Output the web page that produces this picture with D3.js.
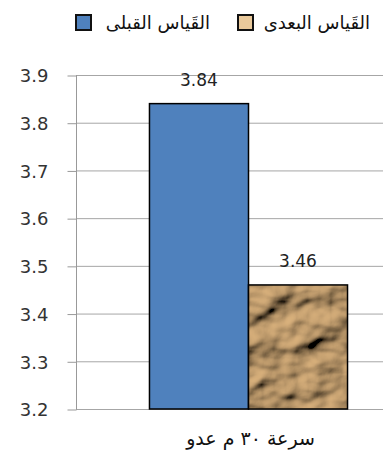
<!DOCTYPE html>
<html>
<head>
<meta charset="utf-8">
<script src="https://cdn.jsdelivr.net/npm/d3@7/dist/d3.min.js"></script>
<style>
  html, body { margin: 0; padding: 0; background: #fff; }
  svg { display: block; }
  text { font-family: "DejaVu Sans", sans-serif; }
</style>
</head>
<body>
<div id="chart"></div>
<script>
// Categories, series and values
const categories = ["سرعة ٣٠ م عدو"];
const seriesNames = ["القَياس القبلى", "القَياس البعدى"];
const preValues = [3.84];
const postValues = [3.46];
const yTicks = [3.2, 3.3, 3.4, 3.5, 3.6, 3.7, 3.8, 3.9];

const width = 383, height = 462;
const plot = { left: 76, right: 421, top: 75, bottom: 409 };

const svg = d3.select("#chart").append("svg")
  .attr("width", width).attr("height", height);

// Crumpled-paper texture used for the second series
const defs = svg.append("defs");
const filt = defs.append("filter").attr("id", "paper")
  .attr("x", "0%").attr("y", "0%").attr("width", "100%").attr("height", "100%");
filt.append("feTurbulence").attr("type", "fractalNoise")
  .attr("baseFrequency", "0.022 0.03").attr("numOctaves", 3).attr("seed", 11).attr("result", "noise");
filt.append("feDiffuseLighting").attr("in", "noise").attr("lighting-color", "#dcb37e")
  .attr("surfaceScale", 11).attr("diffuseConstant", 1.0).attr("result", "lit")
  .append("feDistantLight").attr("azimuth", 225).attr("elevation", 40);
filt.append("feComposite").attr("in", "lit").attr("in2", "SourceGraphic").attr("operator", "in");

const y = d3.scaleLinear().domain([3.2, 3.9]).range([plot.bottom, plot.top]);
const x0 = d3.scaleBand().domain(categories).range([plot.left, plot.right])
  .paddingInner(0).paddingOuter(0.371);
const x1 = d3.scaleBand().domain(seriesNames).range([0, x0.bandwidth()]).padding(0);

const colors = { [seriesNames[0]]: "#4f81bd", [seriesNames[1]]: "#e9c99b" };

// Gridlines
svg.append("g").selectAll("line").data(yTicks).join("line")
  .attr("x1", plot.left).attr("x2", plot.right)
  .attr("y1", d => y(d) + 0.5).attr("y2", d => y(d) + 0.5)
  .attr("stroke", "#a6a6a6").attr("stroke-width", 1);

// Y axis
const yAxis = svg.append("g").attr("transform", `translate(${plot.left + 0.5},0)`)
  .call(d3.axisLeft(y).tickValues(yTicks).tickFormat(d3.format(".1f")).tickSize(9).tickPadding(19));
yAxis.select(".domain").attr("stroke", "#999").attr("d", `M0,${plot.top}V${plot.bottom + 0.5}`);
yAxis.selectAll(".tick line").attr("stroke", "#999").attr("transform", "translate(0,0.5)");
yAxis.selectAll(".tick text").attr("font-size", 18).attr("fill", "#333")
  .attr("font-family", "DejaVu Sans, sans-serif").attr("dy", "0.38em");

// Bars
const rows = categories.map((c, i) => ({
  cat: c,
  vals: [{ s: seriesNames[0], v: preValues[i] }, { s: seriesNames[1], v: postValues[i] }]
}));
const groups = svg.append("g").selectAll("g").data(rows).join("g")
  .attr("transform", d => `translate(${x0(d.cat)},0)`);

groups.each(function(d) {
  const g = d3.select(this);
  d.vals.forEach(p => {
    const bx = x1(p.s), bw = x1.bandwidth(), by = y(p.v), bh = y(3.2) - y(p.v);
    if (p.s === seriesNames[1]) {
      g.append("rect").attr("x", bx).attr("y", by).attr("width", bw).attr("height", bh)
        .attr("fill", "#000").attr("filter", "url(#paper)");
      g.append("rect").attr("x", bx).attr("y", by).attr("width", bw).attr("height", bh)
        .attr("fill", "none").attr("stroke", "#000").attr("stroke-width", 1.5);
    } else {
      g.append("rect").attr("x", bx).attr("y", by).attr("width", bw).attr("height", bh)
        .attr("fill", colors[p.s]).attr("stroke", "#000").attr("stroke-width", 1.5);
    }
    g.append("text").attr("x", bx + bw / 2).attr("y", by - 18)
      .attr("text-anchor", "middle").attr("font-size", 17).attr("fill", "#222")
      .text(p.v.toFixed(2));
  });
});

// Category label
svg.append("g").selectAll("text").data(categories).join("text")
  .attr("x", d => x0(d) + x0.bandwidth() / 2 + 2).attr("y", 445)
  .attr("text-anchor", "middle").attr("font-size", 19).attr("fill", "#111")
  .text(d => d);

// Legend
const legendItems = [
  { name: seriesNames[0], sx: 76, tx: 210 },
  { name: seriesNames[1], sx: 238, tx: 370 }
];
const lg = svg.append("g");
legendItems.forEach(it => {
  lg.append("rect").attr("x", it.sx).attr("y", 15).attr("width", 15).attr("height", 15)
    .attr("fill", colors[it.name]).attr("stroke", "#111").attr("stroke-width", 2);
  lg.append("text").attr("x", it.tx).attr("y", 29).attr("text-anchor", "end")
    .attr("font-size", 18).attr("fill", "#111").text(it.name);
});
</script>
</body>
</html>
